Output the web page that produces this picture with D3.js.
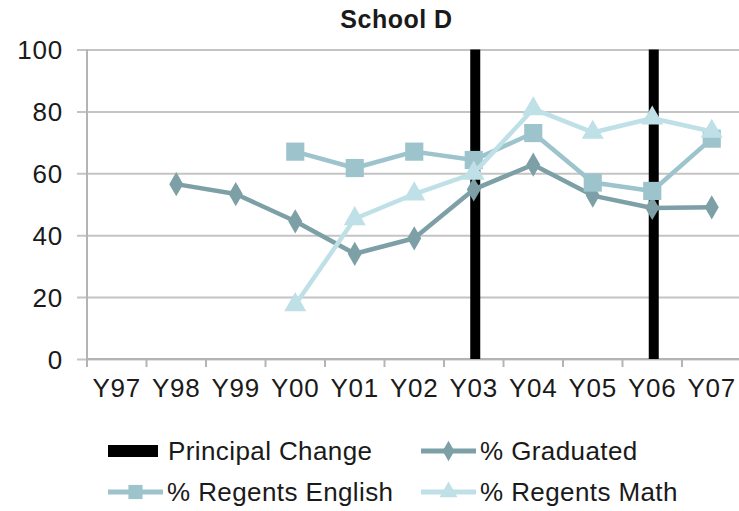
<!DOCTYPE html>
<html><head><meta charset="utf-8">
<script src="https://cdn.jsdelivr.net/npm/d3@7"></script>
<style>
html,body{margin:0;padding:0;background:#fff;}
text{font-family:"Liberation Sans",Arial,sans-serif;fill:#1a1a1a;}
</style></head>
<body><svg id="c" width="739" height="511"></svg>
<script>
const categories = ["Y97","Y98","Y99","Y00","Y01","Y02","Y03","Y04","Y05","Y06","Y07"];
const principalChange = [null,null,null,null,null,null,100,null,null,100,null];
const graduated = [null,56.5,53.3,44.5,34,39,54.8,62.8,52.8,48.8,49];
const regentsEnglish = [null,null,null,67,61.7,67,64.3,73,57,54.3,71.2];
const regentsMath = [null,null,null,17.5,45.3,53.3,60,80.8,73.2,77.8,73.5];
const yTicks = [0,20,40,60,80,100];
const title = "School D";
const seriesNames = ["Principal Change","% Graduated","% Regents English","% Regents Math"];
const colors = {bar:"#000000", grad:"#7d9fa6", eng:"#9dc4cc", math:"#bfe0e6"};

const svg = d3.select("#c");
const x = d3.scaleBand().domain(categories).range([87, 741.5]).padding(0);
const y = d3.scaleLinear().domain([0,100]).range([359, 49.5]);

// title
svg.append("text").attr("x",396.5).attr("y",28).attr("text-anchor","middle")
  .style("font-size","25px").style("font-weight","bold").style("letter-spacing","0.5px").text(title);

// gridlines + y labels via axis
const yAxis = svg.append("g").attr("transform","translate(87,0)")
  .call(d3.axisLeft(y).tickValues(yTicks).tickSize(10).tickPadding(14))
  .call(g=>g.select(".domain").remove());
yAxis.selectAll(".tick line").attr("x1",-10).attr("x2",654.5).attr("stroke","#c4c4c4").attr("stroke-width",2);
yAxis.selectAll(".tick text").style("font-size","26px").style("letter-spacing","0.8px")
  .attr("fill","#1a1a1a").attr("dy","0.36em").attr("x",-24);

// y axis line
svg.append("line").attr("x1",87).attr("x2",87).attr("y1",y(100)).attr("y2",y(0)+1)
  .attr("stroke","#b4b4b4").attr("stroke-width",2);

// x axis labels
const xAxis = svg.append("g").attr("transform",`translate(0,${y(0)})`)
  .call(d3.axisBottom(x).tickSize(0).tickPadding(38));
xAxis.select(".domain").remove();
xAxis.selectAll(".tick text").style("font-size","26px").style("letter-spacing","0.8px").attr("fill","#1a1a1a").attr("dy","0");
// x tick marks at band boundaries
const bounds = categories.map(c=>x(c)).concat([x.range()[1]]);
svg.append("g").selectAll("line").data(bounds).join("line")
  .attr("x1",d=>d).attr("x2",d=>d).attr("y1",y(0)).attr("y2",y(0)+8)
  .attr("stroke","#b4b4b4").attr("stroke-width",2);
svg.append("line").attr("x1",86).attr("x2",741).attr("y1",y(0)).attr("y2",y(0))
  .attr("stroke","#b4b4b4").attr("stroke-width",2);

// principal change bars
const bw = 10;
svg.append("g").selectAll("rect").data(categories.map((c,i)=>({c,v:principalChange[i]})).filter(d=>d.v!=null))
  .join("rect").attr("x",d=>x(d.c)+x.bandwidth()/2-bw/2+1.5).attr("width",bw)
  .attr("y",d=>y(d.v)).attr("height",d=>y(0)-y(d.v)).attr("fill",colors.bar);

const cx = c => x(c)+x.bandwidth()/2;
function drawSeries(vals,color,shape,size){
  const pts = categories.map((c,i)=>({c,v:vals[i]})).filter(d=>d.v!=null);
  svg.append("path").datum(pts)
    .attr("d",d3.line().x(d=>cx(d.c)).y(d=>y(d.v)))
    .attr("fill","none").attr("stroke",color).attr("stroke-width",4.5).attr("stroke-linejoin","round");
  svg.append("g").selectAll("path").data(pts).join("path")
    .attr("transform",d=>`translate(${cx(d.c)},${y(d.v)})`)
    .attr("d",d3.symbol().type(shape).size(size)).attr("fill",color);
}
drawSeries(graduated,colors.grad,d3.symbolDiamond,170);
drawSeries(regentsEnglish,colors.eng,d3.symbolSquare,330);
drawSeries(regentsMath,colors.math,d3.symbolTriangle,210);

// legend
const lg = svg.append("g");
const fs = "26px";
lg.append("rect").attr("x",108).attr("y",445).attr("width",50).attr("height",12).attr("fill",colors.bar);
lg.append("text").attr("x",168).attr("y",460).style("font-size",fs).style("letter-spacing","0.4px").text(seriesNames[0]);
function legLine(x0,yc,color,shape,size,label){
  lg.append("line").attr("x1",x0).attr("x2",x0+55).attr("y1",yc).attr("y2",yc).attr("stroke",color).attr("stroke-width",5);
  lg.append("path").attr("transform",`translate(${x0+27.5},${yc})`).attr("d",d3.symbol().type(shape).size(size)).attr("fill",color);
  lg.append("text").attr("x",x0+59).attr("y",yc+9).style("font-size",fs).style("letter-spacing","0.4px").text(label);
}
legLine(421,451,colors.grad,d3.symbolDiamond,120,seriesNames[1]);
legLine(108,492,colors.eng,d3.symbolSquare,200,seriesNames[2]);
legLine(421,492,colors.math,d3.symbolTriangle,140,seriesNames[3]);
</script></body></html>
